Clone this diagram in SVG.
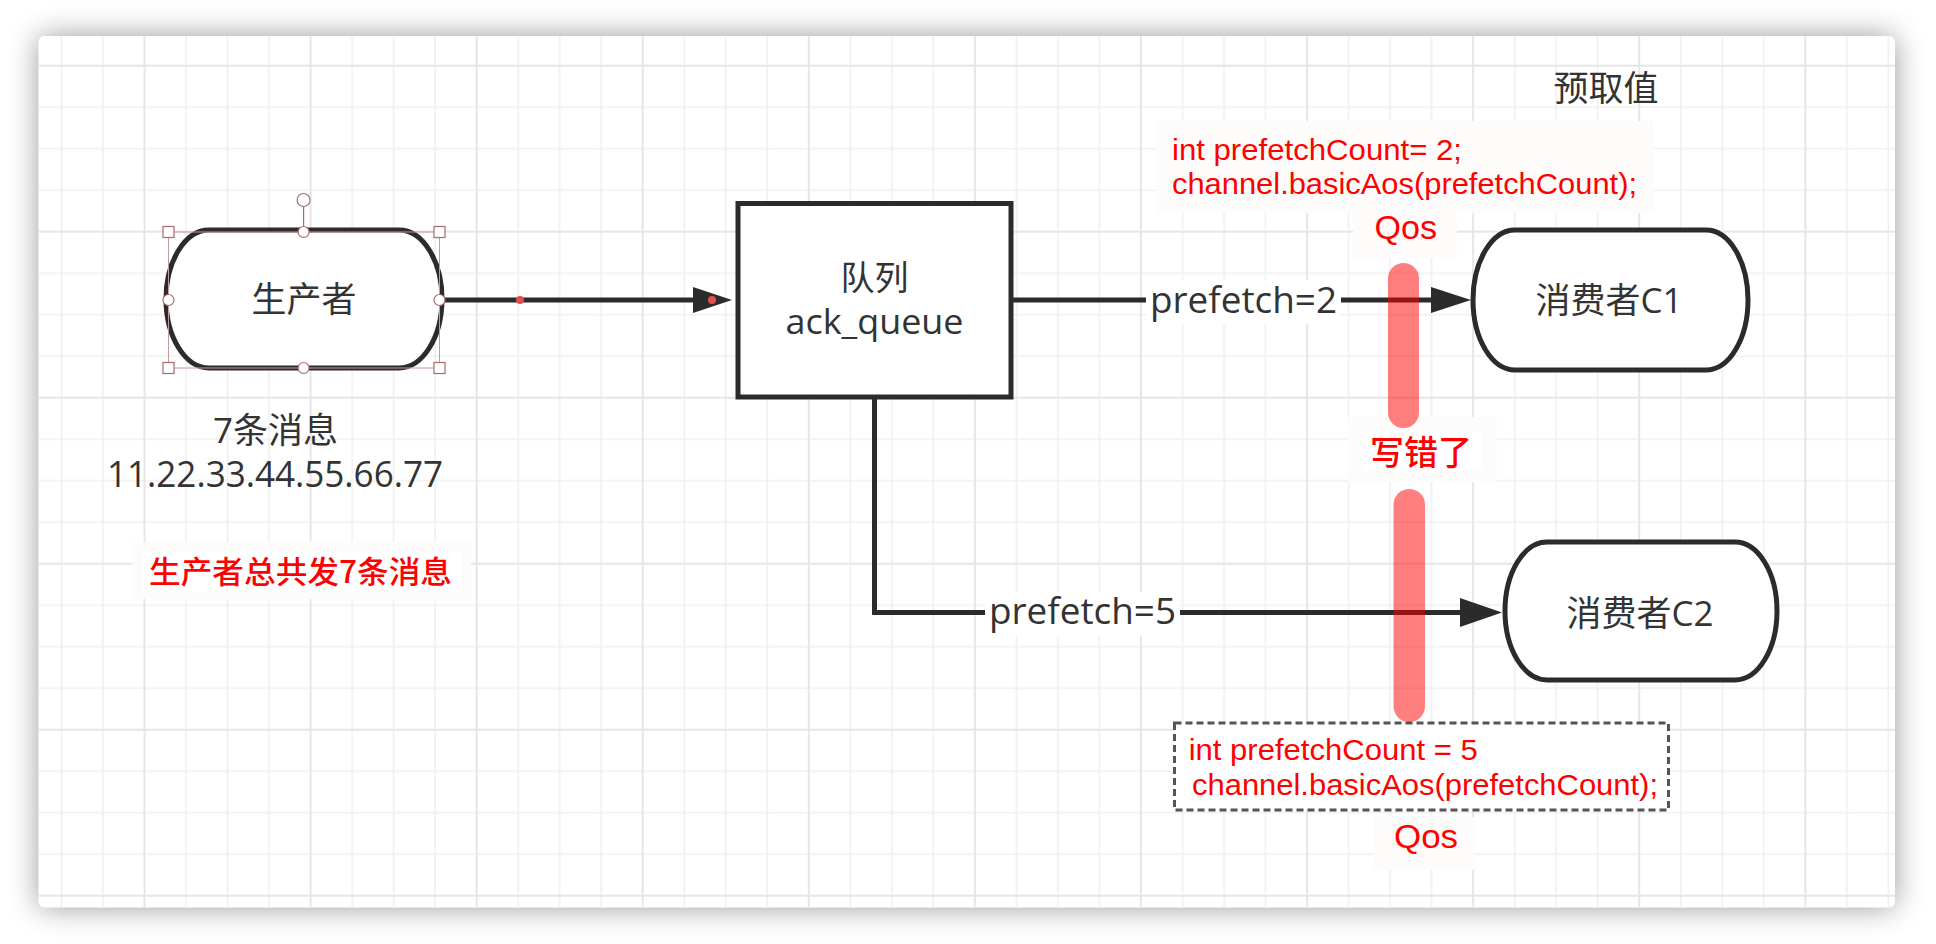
<svg xmlns="http://www.w3.org/2000/svg" width="1936" height="944" viewBox="0 0 1936 944">
<style>
.node{fill:#ffffff;stroke:#2b2b2b;stroke-width:5}
.conn{fill:none;stroke:#2b2b2b;stroke-width:5}
.head{fill:#2b2b2b}
.txt{font-family:'Open Sans','Noto Sans CJK SC',sans-serif;fill:#333333}
.red{font-family:'Noto Sans CJK SC',sans-serif;fill:#ff0000;font-weight:500}
.code{font-family:'Liberation Sans',Arial,sans-serif;fill:#ff0000}
.faint{fill:#fdfcfb}
.lbl{fill:#ffffff}
.sel{fill:#ffffff;stroke:#a86a6a;stroke-width:1.2}
.bar{fill:#ff0000;opacity:0.5}
</style>
<defs>
<filter id="blur" x="-5%" y="-10%" width="110%" height="120%"><feGaussianBlur stdDeviation="15"/></filter>
<pattern id="grid" patternUnits="userSpaceOnUse" x="-22.58" y="64.7" width="166.08" height="166">
<g stroke="#efefef" stroke-width="1.6">
<line x1="42.52" y1="0" x2="42.52" y2="166"/><line x1="84.04" y1="0" x2="84.04" y2="166"/><line x1="125.56" y1="0" x2="125.56" y2="166"/>
<line x1="0" y1="42.5" x2="166.08" y2="42.5"/><line x1="0" y1="84" x2="166.08" y2="84"/><line x1="0" y1="125.5" x2="166.08" y2="125.5"/>
</g>
<g stroke="#e6e6e6" stroke-width="2">
<line x1="1" y1="0" x2="1" y2="166"/><line x1="0" y1="1" x2="166.08" y2="1"/>
</g>
</pattern>
</defs>
<rect x="0" y="0" width="1936" height="944" fill="#ffffff"/>
<rect x="38.5" y="36" width="1856.5" height="871.5" rx="6" fill="#000000" opacity="0.4" filter="url(#blur)"/>
<rect x="38.5" y="36" width="1856.5" height="871.5" rx="6" fill="#ffffff"/>
<rect x="38.5" y="36" width="1856.5" height="871.5" rx="6" fill="url(#grid)"/>

<!-- faint label backgrounds -->
<rect class="faint" x="1156" y="121" width="498" height="92"/>
<rect class="faint" x="1353" y="213" width="104" height="45"/>
<rect class="faint" x="1348" y="417" width="149" height="65"/>
<rect class="lbl" x="1363" y="432" width="119" height="38"/>
<rect class="faint" x="132" y="542" width="339" height="57"/>
<rect class="lbl" x="142" y="552" width="320" height="40"/>
<rect class="faint" x="1374" y="817" width="100" height="53"/>

<g id="connectors">
<line class="conn" x1="442" y1="300" x2="695" y2="300"/>
<polygon class="head" points="693,287 732,300 693,313"/>
<circle cx="520" cy="300" r="4" fill="#e05050"/>
<circle cx="712" cy="300" r="4" fill="#e05050"/>
<line class="conn" x1="1011" y1="300" x2="1433" y2="300"/>
<polygon class="head" points="1431,287 1471,300 1431,313"/>
<polyline class="conn" points="874.5,397 874.5,612.5 1462,612.5"/>
<polygon class="head" points="1460,598 1502,612.5 1460,627"/>
<rect class="lbl" x="1146" y="280" width="195" height="44"/>
<text class="txt" x="1150" y="313.3" font-size="36" textLength="187" lengthAdjust="spacingAndGlyphs">prefetch=2</text>
<rect class="lbl" x="985" y="592" width="195" height="44"/>
<text class="txt" x="989" y="624.3" font-size="36" textLength="187" lengthAdjust="spacingAndGlyphs">prefetch=5</text>
</g>

<g id="producer">
<path class="node" d="M209,230 H399 A43,69 0 0 1 442,299 A43,69 0 0 1 399,368 H209 A43,69 0 0 1 166,299 A43,69 0 0 1 209,230 Z"/>
<text class="txt" x="304" y="311.5" font-size="35" text-anchor="middle">生产者</text>
<g id="selection">
<rect x="168.5" y="232" width="271" height="136" fill="none" stroke="#c49a9a" stroke-width="1"/>
<line x1="303.6" y1="207" x2="303.6" y2="232" stroke="#a86a6a" stroke-width="1.2"/>
<circle class="sel" cx="303.6" cy="200" r="6.5"/>
<rect class="sel" x="163" y="226.5" width="11" height="11"/>
<rect class="sel" x="434" y="226.5" width="11" height="11"/>
<rect class="sel" x="163" y="362.5" width="11" height="11"/>
<rect class="sel" x="434" y="362.5" width="11" height="11"/>
<circle class="sel" cx="303.6" cy="232" r="5.5"/>
<circle class="sel" cx="303.6" cy="368" r="5.5"/>
<circle class="sel" cx="168.5" cy="300" r="5.5"/>
<circle class="sel" cx="439.5" cy="300" r="5.5"/>
</g>
</g>

<g id="queue">
<rect class="node" x="738" y="203.5" width="273" height="193.5"/>
<text class="txt" x="874.5" y="290" font-size="34" text-anchor="middle">队列</text>
<text class="txt" x="874.5" y="334" font-size="35" text-anchor="middle" textLength="178" lengthAdjust="spacingAndGlyphs">ack_queue</text>
</g>

<g id="consumer1">
<path class="node" d="M1515,230 H1706 A42,70 0 0 1 1748,300 A42,70 0 0 1 1706,370 H1515 A42,70 0 0 1 1473,300 A42,70 0 0 1 1515,230 Z"/>
<text class="txt" x="1609" y="313" font-size="35" text-anchor="middle">消费者C1</text>
</g>

<g id="consumer2">
<path class="node" d="M1547,542 H1735 A42,69 0 0 1 1777,611 A42,69 0 0 1 1735,680 H1547 A42,69 0 0 1 1505,611 A42,69 0 0 1 1547,542 Z"/>
<text class="txt" x="1640" y="626" font-size="35" text-anchor="middle">消费者C2</text>
</g>

<g id="producer-note">
<text class="txt" x="275.5" y="443" font-size="35" text-anchor="middle">7条消息</text>
<text class="txt" x="275" y="487" font-size="36" text-anchor="middle" textLength="336" lengthAdjust="spacingAndGlyphs">11.22.33.44.55.66.77</text>
</g>

<g id="red-note">
<text class="red" x="149" y="583" font-size="31" textLength="303" lengthAdjust="spacingAndGlyphs">生产者总共发7条消息</text>
</g>

<g id="prefetch-title">
<text class="txt" x="1606" y="100.5" font-size="35" text-anchor="middle">预取值</text>
</g>

<g id="code1">
<text class="code" x="1172" y="160" font-size="30" textLength="290" lengthAdjust="spacingAndGlyphs">int prefetchCount= 2;</text>
<text class="code" x="1172" y="194.3" font-size="30" textLength="465" lengthAdjust="spacingAndGlyphs">channel.basicAos(prefetchCount);</text>
<text class="code" x="1374.5" y="239.3" font-size="34" textLength="62.5" lengthAdjust="spacingAndGlyphs">Qos</text>
</g>

<g id="code2">
<rect x="1174.5" y="723" width="494" height="87" fill="#ffffff" stroke="#555555" stroke-width="3" stroke-dasharray="7,4"/>
<text class="code" x="1188.7" y="760" font-size="30" textLength="289" lengthAdjust="spacingAndGlyphs">int prefetchCount = 5</text>
<text class="code" x="1192" y="795" font-size="30" textLength="466" lengthAdjust="spacingAndGlyphs">channel.basicAos(prefetchCount);</text>
<text class="code" x="1394" y="848.3" font-size="34" textLength="64" lengthAdjust="spacingAndGlyphs">Qos</text>
</g>

<g id="mistake">
<text class="red" x="1370" y="465" font-size="34" textLength="102" lengthAdjust="spacingAndGlyphs">写错了</text>
<rect class="bar" x="1388" y="263" width="31" height="165" rx="15.5"/>
<rect class="bar" x="1393.5" y="489" width="31.5" height="233" rx="15.75"/>
</g>
</svg>
